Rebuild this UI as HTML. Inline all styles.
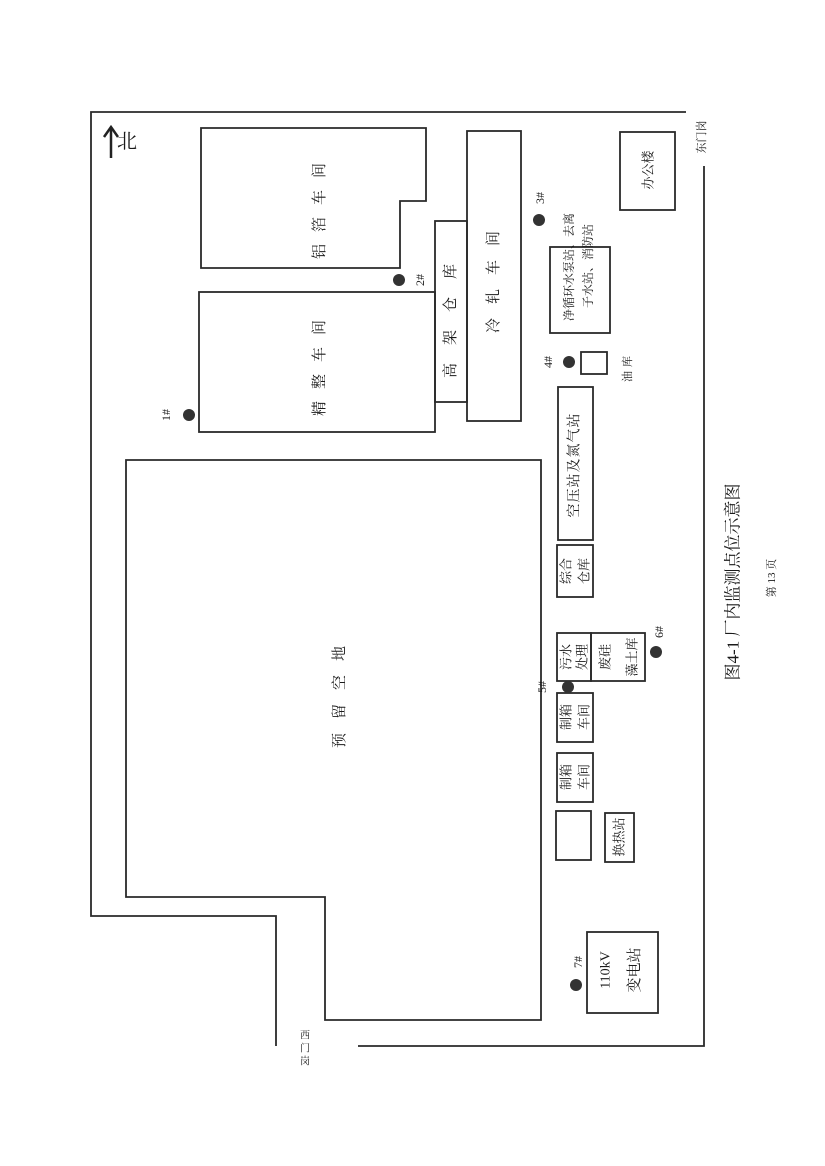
<!DOCTYPE html>
<html><head><meta charset="utf-8"><style>
html,body{margin:0;padding:0;background:#fff;}
svg{display:block;}
text{font-family:"Liberation Serif","Noto Serif CJK SC","Noto Sans CJK SC",serif;fill:#1a1a1a;}
</style></head><body>
<svg width="825" height="1166" viewBox="0 0 825 1166" xmlns="http://www.w3.org/2000/svg">
<g fill="none" stroke="#2a2a2a" stroke-width="1.8">
<polyline points="686,112 91,112 91,916 276,916 276,1046"/>
<polyline points="358,1046 704,1046 704,166"/>
<polygon points="201,128 426,128 426,201 400,201 400,268 201,268"/>
<rect x="199" y="292" width="236" height="140"/>
<rect x="435" y="221" width="32" height="181"/>
<rect x="467" y="131" width="54" height="290"/>
<rect x="550" y="247" width="60" height="86"/>
<rect x="581" y="352" width="26" height="22"/>
<rect x="620" y="132" width="55" height="78"/>
<rect x="558" y="387" width="35" height="153"/>
<polygon points="126,460 541,460 541,1020 325,1020 325,897 126,897"/>
<rect x="557" y="545" width="36" height="52"/>
<rect x="557" y="633" width="34" height="48"/>
<rect x="591" y="633" width="54" height="48"/>
<rect x="557" y="693" width="36" height="49"/>
<rect x="557" y="753" width="36" height="49"/>
<rect x="556" y="811" width="35" height="49"/>
<rect x="605" y="813" width="29" height="49"/>
<rect x="587" y="932" width="71" height="81"/>
</g>
<g fill="#333">
<circle cx="189" cy="415" r="6"/>
<circle cx="399" cy="280" r="6"/>
<circle cx="539" cy="220" r="6"/>
<circle cx="569" cy="362" r="6"/>
<circle cx="568" cy="687" r="6"/>
<circle cx="656" cy="652" r="6"/>
<circle cx="576" cy="985" r="6"/>
</g>
<g stroke="#222" stroke-width="2.5" fill="none"><line x1="111" y1="128" x2="111" y2="158"/><polyline points="104,137 111,127 118,137"/></g>
<text x="117" y="148" font-size="20">北</text>
<g font-size="15" text-anchor="middle" dominant-baseline="central">
<text transform="translate(320,205) rotate(-90)" letter-spacing="12">铝箔车间</text>
<text transform="translate(320,362) rotate(-90)" letter-spacing="12">精整车间</text>
<text transform="translate(451,312) rotate(-90)" letter-spacing="18">高架仓库</text>
<text transform="translate(494,275) rotate(-90)" letter-spacing="14">冷轧车间</text>
<text transform="translate(340,690) rotate(-90)" letter-spacing="14">预留空地</text>
<text transform="translate(648,170) rotate(-90)" font-size="13">办公楼</text>
<text transform="translate(575,465) rotate(-90)" font-size="14" letter-spacing="1">空压站及氮气站</text>
<text transform="translate(566,571) rotate(-90)" font-size="13">综合</text>
<text transform="translate(584,571) rotate(-90)" font-size="13">仓库</text>
<text transform="translate(566,657) rotate(-90)" font-size="13">污水</text>
<text transform="translate(582,657) rotate(-90)" font-size="13">处理</text>
<text transform="translate(605,657) rotate(-90)" font-size="13">废硅</text>
<text transform="translate(632,657) rotate(-90)" font-size="13">藻土库</text>
<text transform="translate(566,717) rotate(-90)" font-size="13">制箱</text>
<text transform="translate(584,717) rotate(-90)" font-size="13">车间</text>
<text transform="translate(566,777) rotate(-90)" font-size="13">制箱</text>
<text transform="translate(584,777) rotate(-90)" font-size="13">车间</text>
<text transform="translate(619,837) rotate(-90)" font-size="13">换热站</text>
<text transform="translate(606,970) rotate(-90)" font-size="14">110kV</text>
<text transform="translate(635,970) rotate(-90)" font-size="15">变电站</text>
<text transform="translate(569,267) rotate(-90)" font-size="12">净循环水泵站、去离</text>
<text transform="translate(588,266) rotate(-90)" font-size="12">子水站、消防站</text>
<text transform="translate(628,367) rotate(-90)" font-size="11" letter-spacing="4">油库</text>
<text transform="translate(702,137) rotate(-90)" font-size="11">东门岗</text>
<text transform="translate(166,415) rotate(-90)" font-size="12">1#</text>
<text transform="translate(420,280) rotate(-90)" font-size="12">2#</text>
<text transform="translate(540,198) rotate(-90)" font-size="12">3#</text>
<text transform="translate(548,362) rotate(-90)" font-size="12">4#</text>
<text transform="translate(542,687) rotate(-90)" font-size="12">5#</text>
<text transform="translate(659,632) rotate(-90)" font-size="12">6#</text>
<text transform="translate(578,962) rotate(-90)" font-size="12">7#</text>
<text transform="translate(733,582) rotate(-90)" font-size="17">图4-1 厂内监测点位示意图</text>
<text transform="translate(772,578) rotate(-90)" font-size="11">第 13 页</text>
</g>
<g font-size="10" text-anchor="middle" dominant-baseline="central">
<text x="305" y="1036">西</text>
<text x="305" y="1049">门</text>
<text x="305" y="1062">岗</text>
</g>
</svg>
</body></html>
